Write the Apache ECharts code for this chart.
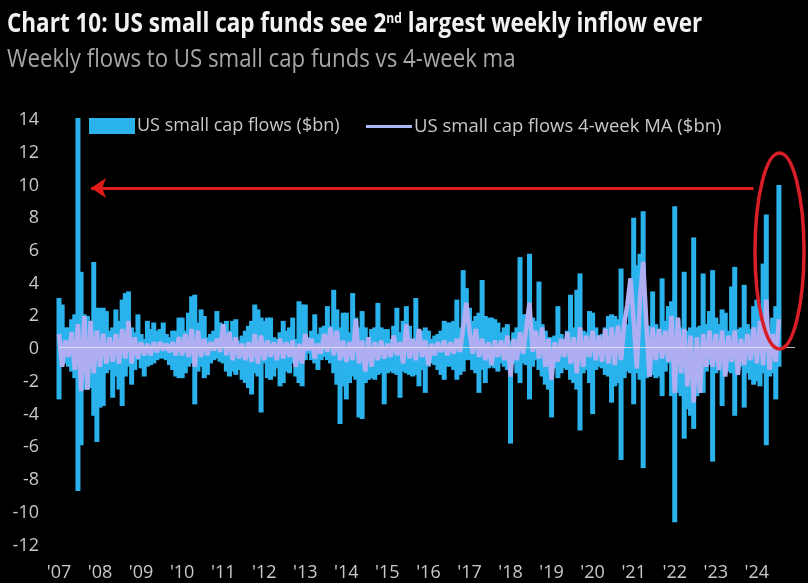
<!DOCTYPE html>
<html>
<head>
<meta charset="utf-8">
<style>html,body{margin:0;padding:0;background:#000}#main{width:808px;height:583px}</style>
<script src="https://cdn.jsdelivr.net/npm/echarts@6/dist/echarts.min.js"></script>
</head>
<body>
<div id="main"></div>
<script>
var seriesFlows = 'US small cap flows ($bn)';
var seriesMa = 'US small cap flows 4-week MA ($bn)';
var firstYear = 2007;
var samplesPerYear = 13;
var yTicks = [14, 12, 10, 8, 6, 4, 2, 0, -2, -4, -6, -8, -10, -12];

// top of the flow bars, 13 readings per year
var flowHigh = [
  3.0,2.6,1.2,1.2,1.7,2.0,14,4.6,2.0,1.9,1.2,5.2,2.4, // 07
  2.4,2.4,2.2,1.0,1.2,2.3,1.6,2.9,3.3,3.4,1.2,0.9,2.0, // 08
  0.8,0.5,1.6,1.1,1.5,1.0,1.1,1.5,0.8,0.6,1.0,1.0,1.8, // 09
  1.8,1.0,2.1,3.1,3.2,1.5,2.3,1.9,0.6,0.8,1.0,2.2,1.5, // 10
  1.2,1.6,1.0,1.6,1.7,0.4,0.7,1.0,1.3,1.6,2.6,2.3,1.8, // 11
  1.6,1.8,1.8,0.6,0.5,0.9,1.6,1.0,1.2,1.8,0.5,2.8,2.6, // 12
  2.6,0.6,1.0,2.0,0.8,1.2,1.3,2.5,1.3,3.5,2.3,1.2,2.1, // 13
  2.1,0.9,3.3,1.8,1.2,2.2,1.2,0.6,1.1,1.2,2.7,1.2,1.1, // 14
  1.1,0.5,1.3,2.4,0.9,1.6,2.5,1.3,0.5,3.0,0.7,1.0,1.2, // 15
  1.0,0.5,0.7,0.8,1.0,1.6,1.5,1.5,1.6,2.9,1.2,4.7,3.6, // 16
  2.4,1.6,1.9,2.1,4.1,1.9,1.8,1.8,1.7,1.5,0.9,1.2,1.4, // 17
  0.4,0.9,1.2,5.5,2.0,2.0,5.7,1.8,1.6,4.0,1.4,1.0,0.6, // 18
  0.6,0.7,2.5,0.8,0.5,1.0,3.2,1.2,3.5,4.5,1.0,0.9,2.2, // 19
  2.1,1.2,0.7,0.8,1.2,1.9,2.0,1.9,1.7,4.8,1.6,1.4,3.0, // 20
  7.9,5.0,5.7,8.3,1.3,1.3,3.4,1.4,1.0,4.2,1.6,2.5,2.8, // 21
  8.6,1.7,1.2,4.6,1.0,1.2,6.7,1.2,1.3,4.5,1.4,2.2,4.7, // 22
  1.8,1.4,2.3,2.1,1.0,3.7,4.9,1.1,1.2,3.8,1.4,1.1,2.5, // 23
  2.9,2.0,5.1,8.1,1.0,1.8,2.5,9.9 // 24
];
// bottom of the flow bars
var flowLow = [
  -3.2,-1.0,-1.0,-1.2,-1.5,-1.9,-8.8,-6.0,-2.6,-2.6,-2.5,-4.2,-5.8,
  -3.7,-3.6,-1.6,-1.4,-3.1,-1.8,-2.6,-3.6,-1.8,-1.2,-2.3,-1.4,-0.8,
  -1.3,-1.8,-1.2,-1.1,-1.0,-0.8,-0.7,-0.7,-0.8,-1.1,-1.4,-1.8,-1.9,
  -1.9,-1.6,-1.2,-1.0,-3.5,-1.5,-1.2,-1.9,-1.7,-1.0,-0.8,-0.7,-0.9,
  -1.0,-1.5,-1.8,-1.5,-1.7,-1.4,-2.0,-2.2,-2.5,-2.9,-1.6,-1.8,-4.0,
  -1.0,-1.9,-2.0,-1.8,-1.3,-2.4,-2.2,-1.5,-1.6,-1.0,-1.8,-2.2,-2.4,
  -0.8,-0.4,-0.8,-1.0,-1.4,-0.8,-0.6,-0.8,-1.0,-1.6,-2.3,-4.7,-2.4,
  -3.2,-2.2,-1.8,-2.0,-4.3,-4.4,-2.2,-2.0,-1.9,-2.0,-1.7,-1.6,-3.5,
  -1.6,-1.5,-1.6,-1.7,-3.1,-1.5,-1.6,-1.7,-1.8,-1.7,-2.4,-1.4,-2.8,
  -1.2,-1.0,-1.1,-1.4,-1.7,-2.0,-1.2,-1.2,-1.4,-2.0,-1.7,-1.5,-0.8,
  -0.8,-1.4,-1.6,-2.8,-1.4,-2.2,-1.3,-1.2,-1.3,-1.5,-1.0,-1.2,-1.4,
  -5.9,-1.0,-1.6,-2.2,-1.0,-1.1,-3.2,-1.2,-0.8,-1.4,-1.8,-2.3,-2.6,
  -4.3,-1.3,-1.9,-1.6,-1.3,-1.4,-2.0,-2.2,-2.6,-5.1,-1.6,-1.4,-2.2,
  -4.1,-1.4,-1.2,-1.3,-1.7,-1.8,-3.4,-2.4,-2.2,-6.9,-1.9,-1.5,-1.6,
  -3.5,-1.6,-2.0,-7.4,-1.9,-1.8,-1.7,-1.9,-1.8,-3.0,-1.5,-1.0,-3.0,
  -10.7,-2.8,-3.0,-5.6,-3.8,-4.2,-5.0,-3.0,-2.6,-2.8,-1.5,-1.1,-7.0,
  -1.6,-1.3,-3.6,-1.4,-1.5,-1.6,-4.2,-1.4,-1.2,-3.7,-1.6,-2.0,-2.3,
  -2.1,-2.4,-1.6,-6.0,-1.8,-1.6,-3.2,-1.2
];
// 4-week MA
var maValues = [
  0.8,-1.2,0.4,-0.6,0.9,-1.4,1.4,-2.7,1.9,-2.6,1.6,-1.6,1.0,
  -1.2,0.8,-1.0,0.6,-0.9,0.8,-1.0,1.1,-0.7,1.6,-1.0,0.6,-0.7,
  0.3,-0.5,0.2,-0.5,0.3,-0.3,0.3,-0.2,0.2,-0.3,0.3,-0.5,0.6,
  -0.5,0.8,-0.6,1.1,-1.2,1.0,-0.6,0.5,-0.5,0.3,-0.2,0.5,-0.3,
  1.4,-0.5,0.9,-0.8,0.6,-0.7,0.2,-0.8,0.3,-0.9,0.8,-1.0,0.7,
  -0.8,0.4,-0.6,0.3,-0.8,0.5,-0.7,0.3,-0.6,0.4,-1.2,0.2,-1.0,
  0.8,-0.2,0.5,-0.7,0.2,-0.4,0.8,-0.3,1.2,-0.5,1.0,-0.8,0.4,
  -0.9,0.3,-0.8,1.7,-1.0,0.4,-1.5,0.6,-1.2,0.3,-0.8,0.4,-0.7,
  0.2,-0.6,0.7,-0.5,0.3,-1.0,1.4,-0.7,0.5,-0.8,1.1,-0.6,0.4,
  -1.1,0.2,-0.5,0.3,-0.3,0.4,-0.5,0.3,-0.4,0.5,-0.3,1.2,2.7,
  1.0,-0.4,1.1,-0.6,0.5,-0.8,0.3,-1.1,0.4,-0.6,0.4,-0.8,0.7,
  -1.8,0.5,-0.8,0.9,-0.4,1.2,2.7,-0.3,1.0,-0.7,1.2,-1.2,0.5,
  -2.0,0.3,-0.9,0.5,-0.6,0.9,-1.0,0.6,-1.6,1.2,-1.2,0.7,-0.6,
  1.0,-0.8,0.7,-0.9,1.1,-1.0,1.2,-1.1,1.3,-0.8,1.4,2.6,4.2,
  1.6,-1.3,3.0,5.2,1.5,-1.8,1.2,-0.8,1.1,-0.7,1.0,-0.9,1.9,
  -2.8,1.8,-1.6,1.1,-2.4,0.7,-3.4,0.6,-2.8,0.8,-1.2,1.0,-1.2,
  0.8,-1.4,1.0,-1.8,0.7,-0.9,1.0,-1.7,0.5,-1.1,0.8,-0.8,1.2,
  -1.0,1.6,-1.1,2.9,-1.4,0.8,-0.9,1.7
];

function xOf(i) { return firstYear + i / samplesPerYear; }

var barData = [];
flowHigh.forEach(function (v, i) {
  barData.push([xOf(i), v]);
  barData.push([xOf(i), flowLow[i]]);
});
var maData = maValues.map(function (v, i) { return [xOf(i), v]; });

var chart = echarts.init(document.getElementById('main'));
chart.setOption({
  backgroundColor: '#000',
  animation: false,
  legend: [
    {
      left: 84, top: 112,
      itemWidth: 46, itemHeight: 16,
      textStyle: { fontFamily: 'Open Sans', fontSize: 18, color: '#c8c8c8', padding: [0, 0, 0, -3] },
      data: [{ name: seriesFlows, icon: 'rect' }]
    },
    {
      left: 361, top: 112,
      itemWidth: 46, itemHeight: 3,
      itemStyle: { color: '#aab6f6' },
      textStyle: { fontFamily: 'Open Sans', fontSize: 18.5, color: '#c8c8c8', padding: [0, 0, 0, -3] },
      data: [{ name: seriesMa, icon: 'rect' }]
    }
  ],
  grid: { left: 59, right: 13, top: 118, bottom: 39.6 },
  xAxis: {
    type: 'value',
    min: firstYear, max: 2024.93, interval: 1,
    splitLine: { show: false },
    axisLine: { show: false, onZero: false },
    axisTick: { show: false },
    axisLabel: {
      margin: 20, color: '#c8c8c8', fontFamily: 'Open Sans', fontSize: 18, showMaxLabel: false,
      formatter: function (v) {
        return v % 1 === 0 ? "'" + String(v).slice(2) : '';
      }
    }
  },
  yAxis: {
    type: 'value',
    min: yTicks[yTicks.length - 1], max: yTicks[0], interval: 2,
    splitLine: { show: false },
    axisLine: { show: false },
    axisTick: { show: false },
    axisLabel: {
      margin: 20,
      formatter: '{v|{value}}',
      rich: { v: { color: '#c8c8c8', fontFamily: 'Open Sans', fontSize: 18, padding: [4, 0, 0, 0] } }
    }
  },
  series: [
    {
      name: seriesFlows,
      type: 'bar',
      barWidth: 5,
      itemStyle: { color: '#2ab2ec' },
      data: barData
    },
    {
      name: seriesMa,
      type: 'line',
      symbol: 'none',
      lineStyle: { color: '#b0aef2', width: 4.5 },
      itemStyle: { color: '#b0b8f6' },
      data: maData,
      markLine: {
        silent: true,
        symbol: 'none',
        label: { show: false },
        data: [
          [
            { coord: [firstYear, 0], lineStyle: { color: '#e8e8e8', width: 1, type: 'solid', opacity: 0.8 } },
            { coord: [2024.93, 0] }
          ],
          [
            { coord: [2007.78, 9.72], symbol: 'arrow', symbolSize: 15, symbolRotate: 90, lineStyle: { color: '#e01b1b', width: 3, type: 'solid' }, itemStyle: { color: '#e01b1b' } },
            { coord: [2023.92, 9.72], symbol: 'none' }
          ]
        ]
      }
    }
  ],
  graphic: [
    {
      type: 'text',
      x: 7, y: 12,
      scaleX: 0.865,
      style: {
        text: '{a|Chart 10: US small cap funds see 2}{b|nd}{a| largest weekly inflow ever}',
        rich: {
          a: { fontFamily: 'Open Sans', fontWeight: 'bold', fontSize: 26, fill: '#f2f2f2' },
          b: { fontFamily: 'Open Sans', fontWeight: 'bold', fontSize: 14, fill: '#f2f2f2', verticalAlign: 'top', padding: [0, 0, 10, 0] }
        }
      }
    },
    {
      type: 'text',
      x: 7, y: 47,
      scaleX: 0.855,
      style: {
        text: 'Weekly flows to US small cap funds vs 4-week ma',
        fontFamily: 'Open Sans', fontSize: 26, fill: '#a6a6a6'
      }
    },
    {
      type: 'ellipse',
      silent: true,
      z: 100,
      shape: { cx: 779.5, cy: 251, rx: 24.5, ry: 98 },
      style: { fill: 'none', stroke: '#d81e26', lineWidth: 3.5 }
    }
  ]
});
</script>
</body>
</html>
